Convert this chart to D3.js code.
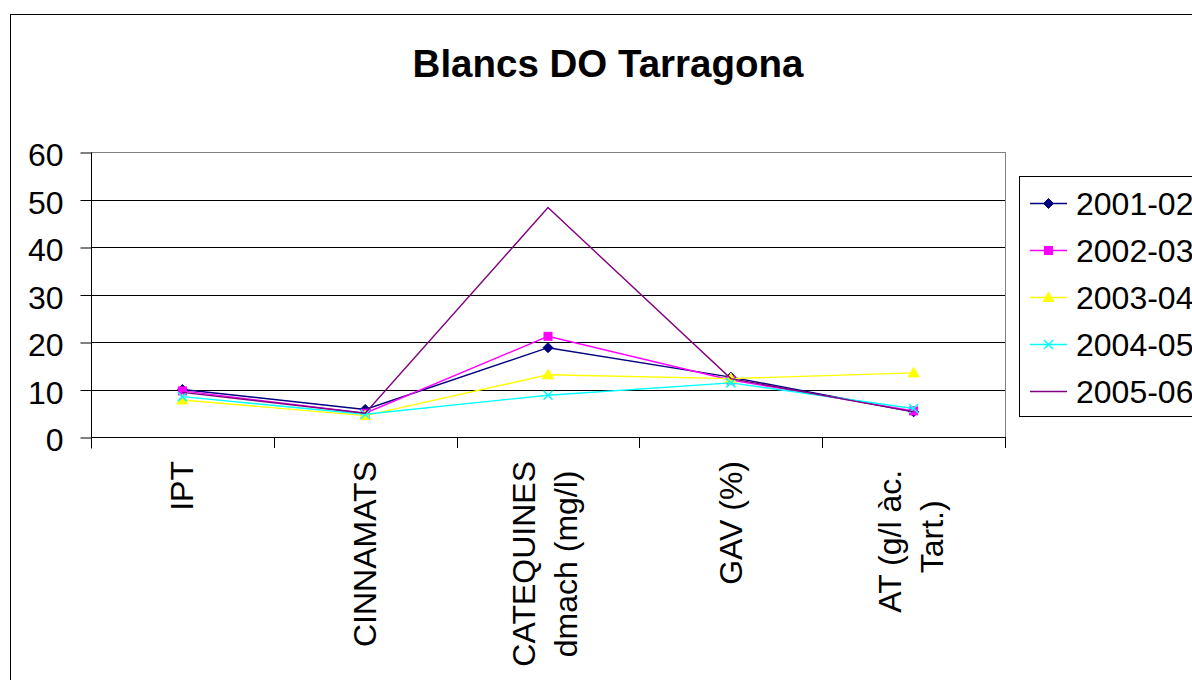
<!DOCTYPE html>
<html>
<head>
<meta charset="utf-8">
<script src="https://cdn.jsdelivr.net/npm/d3@7"></script>
<style>
  html, body { margin: 0; padding: 0; background: #fff; overflow: hidden; }
  text { font-family: "Liberation Sans", Arial, sans-serif; fill: #000; }
</style>
</head>
<body>
<svg id="chart" width="1192" height="680"></svg>
<script>
// ---- data ----
const title = "Blancs DO Tarragona";
const categories = ["IPT", "CINNAMATS", "CATEQUINES dmach (mg/l)", "GAV (%)", "AT (g/l àc. Tart.)"];
const categoryLines = [["IPT"], ["CINNAMATS"], ["CATEQUINES", "dmach (mg/l)"], ["GAV (%)"], ["AT (g/l àc. ", "Tart.)"]];
const seriesNames = ["2001-02", "2002-03", "2003-04", "2004-05", "2005-06"];
const s2001 = [10.0, 5.8, 18.8, 12.6, 5.3];
const s2002 = [9.7, 5.0, 21.2, 12.0, 5.5];
const s2003 = [7.8, 4.5, 13.1, 12.3, 13.5];
const s2004 = [8.5, 4.8, 8.8, 11.4, 6.0];
const s2005 = [9.4, 5.0, 48.3, 12.3, 5.3];
const yTicks = [0, 10, 20, 30, 40, 50, 60];

const seriesValues = [s2001, s2002, s2003, s2004, s2005];
const colors = ["#000080", "#FF00FF", "#FFFF00", "#00FFFF", "#800080"];
const markers = ["diamond", "square", "triangle", "cross", "none"];

// ---- layout ----
const svg = d3.select("#chart");
const plot = { left: 91, top: 152, right: 1005, bottom: 437 };

// outer chart border (extends beyond the picture)
svg.append("rect").attr("x", 10.5).attr("y", 14.5).attr("width", 1300).attr("height", 800)
  .attr("fill", "#fff").attr("stroke", "#000").attr("stroke-width", 1);

const x = d3.scaleBand().domain(categories).range([plot.left, plot.right]).paddingInner(0).paddingOuter(0);
const y = d3.scaleLinear().domain([0, 60]).range([plot.bottom, plot.top]);

// title
svg.append("text").attr("x", 608).attr("y", 77).attr("text-anchor", "middle")
  .attr("font-size", 38.5).attr("font-weight", "bold").text(title);

// plot area border
svg.append("rect").attr("x", plot.left + 0.5).attr("y", plot.top + 0.5)
  .attr("width", plot.right - plot.left).attr("height", plot.bottom - plot.top)
  .attr("fill", "#fff").attr("stroke", "#808080").attr("stroke-width", 1);

// gridlines
svg.append("g").selectAll("line").data(yTicks.filter(d => d > 0 && d < 60)).join("line")
  .attr("x1", plot.left).attr("x2", plot.right)
  .attr("y1", d => Math.round(y(d)) + 0.5).attr("y2", d => Math.round(y(d)) + 0.5)
  .attr("stroke", "#000").attr("stroke-width", 1);

// y axis
const yAxis = d3.axisLeft(y).tickValues(yTicks).tickSize(11).tickPadding(17).tickFormat(d3.format("d"));
const gy = svg.append("g").attr("transform", `translate(${plot.left + 0.5},0.5)`).call(yAxis);
gy.select(".domain").attr("stroke", "#000").attr("d", `M0,${plot.top}V${plot.bottom + 11}`);
gy.selectAll(".tick line").attr("stroke", "#000");
gy.selectAll(".tick text").attr("font-size", 32).attr("font-family", "Liberation Sans, Arial, sans-serif")
  .attr("fill", "#000").attr("dy", "0.42em");

// x axis line and ticks at category boundaries
svg.append("line").attr("x1", plot.left).attr("x2", plot.right)
  .attr("y1", plot.bottom + 0.5).attr("y2", plot.bottom + 0.5).attr("stroke", "#000");
const boundaries = categories.map(c => x(c)).concat([x(categories[categories.length - 1]) + x.bandwidth()]);
svg.append("g").selectAll("line").data(boundaries.slice(1)).join("line")
  .attr("x1", d => Math.round(d) + 0.5).attr("x2", d => Math.round(d) + 0.5)
  .attr("y1", plot.bottom).attr("y2", plot.bottom + 11).attr("stroke", "#000");

// category labels (rotated)
const labelTop = 461;
const lineOffsets = { 1: [11], 2: [-13, 29] };
categories.forEach((c, i) => {
  const cx = x(c) + x.bandwidth() / 2;
  const lines = categoryLines[i];
  const g = svg.append("g");
  const texts = lines.map((ln, j) => g.append("text")
    .attr("font-size", 32).attr("xml:space", "preserve").style("white-space", "pre").text(ln));
  const lens = texts.map(t => t.node().getComputedTextLength());
  const maxLen = d3.max(lens);
  const mid = labelTop + maxLen / 2;
  texts.forEach((t, j) => {
    const bx = cx + lineOffsets[lines.length][j];
    t.attr("text-anchor", "middle")
      .attr("transform", `translate(${bx},${mid}) rotate(-90)`);
  });
});

// series
const line = d3.line().x((d, i) => x(categories[i]) + x.bandwidth() / 2).y(d => y(d));

function drawMarker(g, type, cx, cy, color) {
  if (type === "diamond") {
    g.append("path").attr("d", `M${cx},${cy - 5}L${cx + 5},${cy}L${cx},${cy + 5}L${cx - 5},${cy}Z`)
      .attr("fill", color).attr("stroke", color);
  } else if (type === "square") {
    g.append("rect").attr("x", cx - 4).attr("y", cy - 4).attr("width", 8).attr("height", 8)
      .attr("fill", color).attr("stroke", color);
  } else if (type === "triangle") {
    g.append("path").attr("d", `M${cx},${cy - 5.5}L${cx + 5.5},${cy + 4}L${cx - 5.5},${cy + 4}Z`)
      .attr("fill", color).attr("stroke", color);
  } else if (type === "cross") {
    g.append("path").attr("d", `M${cx - 4.5},${cy - 4.5}L${cx + 4.5},${cy + 4.5}M${cx + 4.5},${cy - 4.5}L${cx - 4.5},${cy + 4.5}`)
      .attr("fill", "none").attr("stroke", color).attr("stroke-width", 1.5);
  }
}

seriesValues.forEach((vals, si) => {
  const g = svg.append("g");
  g.append("path").datum(vals).attr("d", line).attr("fill", "none")
    .attr("stroke", colors[si]).attr("stroke-width", 1.4);
  vals.forEach((v, i) => {
    drawMarker(g, markers[si], x(categories[i]) + x.bandwidth() / 2, y(v), colors[si]);
  });
});

// legend
const lg = svg.append("g");
lg.append("rect").attr("x", 1019.5).attr("y", 176.5).attr("width", 300).attr("height", 240)
  .attr("fill", "#fff").attr("stroke", "#000").attr("stroke-width", 1);
const legendY = d3.scalePoint().domain(seriesNames).range([203.5, 391.5]);
seriesNames.forEach((name, si) => {
  const ly = legendY(name);
  lg.append("line").attr("x1", 1030).attr("x2", 1067).attr("y1", ly).attr("y2", ly)
    .attr("stroke", colors[si]).attr("stroke-width", 1.4);
  drawMarker(lg, markers[si], 1048.5, ly, colors[si]);
  lg.append("text").attr("x", 1076).attr("y", ly + 11.5).attr("font-size", 32).text(name);
});
</script>
</body>
</html>
